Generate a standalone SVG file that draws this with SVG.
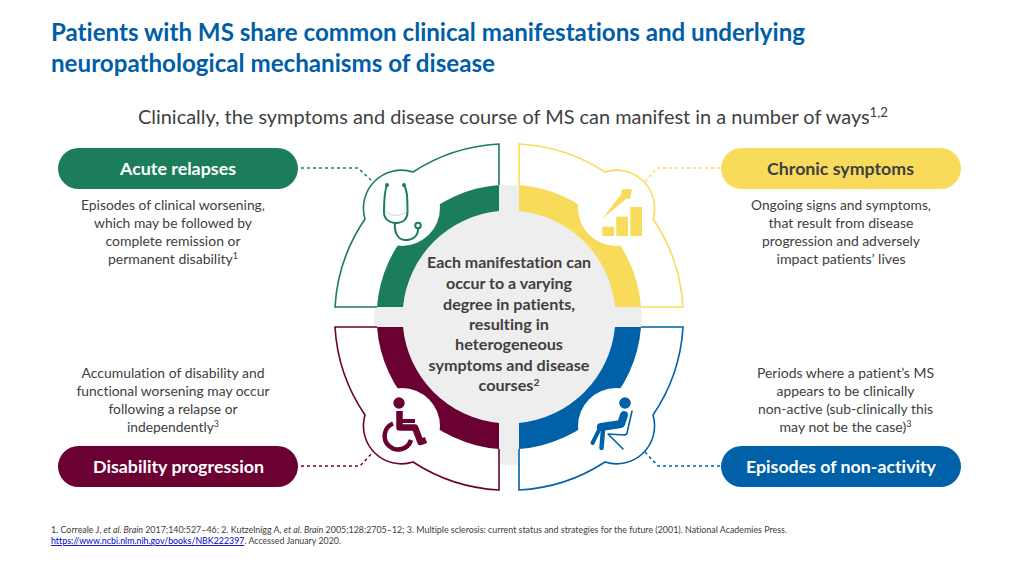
<svg xmlns="http://www.w3.org/2000/svg" xmlns:xlink="http://www.w3.org/1999/xlink" width="1024" height="576" viewBox="0 0 1024 576">
<style>
text{font-family:Lato,"Liberation Sans",sans-serif;font-variant-ligatures:none}
.title{font-size:24.5px;font-weight:700;fill:#005EA8}
.sub{font-size:19.5px;fill:#404040}
.desc{font-size:14px;fill:#404040;text-anchor:middle}
.ctr{font-size:15.5px;font-weight:700;fill:#404040;text-anchor:middle}
.pill{font-size:17.5px;font-weight:700;fill:#fff;text-anchor:middle}
.foot{font-size:9px;fill:#404040}
.conn{fill:none;stroke-width:1.5;stroke-dasharray:3 3}
.fillw{fill:#fff;stroke:none}
.edge{fill:none;stroke-width:1.6}
</style>
<defs>
<path id="sector" d="M499 144A174 174 0 0 0 413 172A38 38 0 0 0 365 219A174 174 0 0 0 335 307L377 307A132.500 132.500 0 0 1 499 185Z"/>
<path id="band" d="M377 307L403 307A106.500 106.500 0 0 1 499 211L499 185A132.500 132.500 0 0 0 377 307Z"/>
<circle id="disc" cx="402" cy="208" r="38"/>
<path id="edge" d="M499 185L499 144A174 174 0 0 0 413 172A38 38 0 0 0 365 219A174 174 0 0 0 335 307L377 307"/>
</defs>
<rect width="1024" height="576" fill="#fff"/>
<text class="title" x="51" y="41" textLength="754" lengthAdjust="spacingAndGlyphs">Patients with MS share common clinical manifestations and underlying</text>
<text class="title" x="51" y="72" textLength="444" lengthAdjust="spacingAndGlyphs">neuropathological mechanisms of disease</text>
<text class="sub" x="138" y="124" textLength="750" lengthAdjust="spacingAndGlyphs">Clinically, the symptoms and disease course of MS can manifest in a number of ways<tspan font-size="13" dy="-7">1,2</tspan></text>
<ellipse id="hub-bg" cx="508" cy="325" rx="134" ry="140" fill="#EEEEEE"/>
<g id="connectors">
<polyline class="conn" stroke="#1B7D5A" points="301,168 358,168 373,182"/>
<polyline class="conn" stroke="#F9DB5C" points="720,168 657,168 645,182"/>
<polyline class="conn" stroke="#6B0033" points="301,466 360,466 373,452"/>
<polyline class="conn" stroke="#0060A8" points="720,466 658,466 645,452"/>
</g>
<g id="quadrant-acute">
<use href="#sector" class="fillw"/>
<use href="#band" fill="#1B7D5A"/>
<use href="#disc" class="fillw"/>
<use href="#edge" class="edge" stroke="#1B7D5A"/>
<g id="icon-stethoscope" fill="none" stroke="#1B7D5A" stroke-width="2" stroke-linecap="round">
<path d="M387 185C385 190 384 196 384 212C384 219 389 223 396 223C403 223 407.500 219 407.500 212C407.500 196 407 190 404 185"/>
<path d="M395 223C394 232 398 240 405 240C413 240 418 236 418 229"/>
<circle cx="418" cy="225.500" r="2.800"/>
<path d="M385 211C392 217 400 217 407 211" stroke="#A9D2C2" stroke-width="0.800"/>
<circle cx="387" cy="185" r="1" fill="#1B7D5A"/><circle cx="404" cy="185" r="1" fill="#1B7D5A"/>
</g>
</g>
<g id="quadrant-chronic">
<use href="#sector" class="fillw" transform="matrix(-1 0 0 1 1018 0)"/>
<use href="#band" fill="#F9DB5C" transform="matrix(-1 0 0 1 1018 0)"/>
<use href="#disc" class="fillw" transform="matrix(-1 0 0 1 1018 0)"/>
<use href="#edge" class="edge" stroke="#F9DB5C" transform="matrix(-1 0 0 1 1018 0)"/>
<g id="icon-chart" fill="#F9DB5C">
<rect x="602.300" y="226.700" width="11.700" height="9.300"/>
<rect x="616.300" y="216.700" width="11.700" height="19.300"/>
<rect x="630.300" y="207" width="11.700" height="29"/>
<polygon points="602,219 621,194.500 621.700,189.300 632,189 630,199 626.500,198.500"/>
</g>
</g>
<g id="quadrant-disability">
<use href="#sector" class="fillw" transform="matrix(1 0 0 -1 0 634)"/>
<use href="#band" fill="#6B0033" transform="matrix(1 0 0 -1 0 634)"/>
<use href="#disc" class="fillw" transform="matrix(1 0 0 -1 0 634)"/>
<use href="#edge" class="edge" stroke="#6B0033" transform="matrix(1 0 0 -1 0 634)"/>
<g id="icon-wheelchair">
<circle cx="399" cy="403" r="5.700" fill="#6B0033"/>
<path d="M399.500 411L399.500 427.500L415 427.500L420.500 442L426 440" fill="none" stroke="#6B0033" stroke-width="6.500" stroke-linejoin="round"/>
<path d="M401 421L415 421" fill="none" stroke="#6B0033" stroke-width="4"/>
<path d="M393 423.500A13.500 13.500 0 1 0 411 440" fill="none" stroke="#6B0033" stroke-width="4.500"/>
</g>
</g>
<g id="quadrant-nonactivity">
<use href="#sector" class="fillw" transform="matrix(-1 0 0 -1 1018 634)"/>
<use href="#band" fill="#0060A8" transform="matrix(-1 0 0 -1 1018 634)"/>
<use href="#disc" class="fillw" transform="matrix(-1 0 0 -1 1018 634)"/>
<use href="#edge" class="edge" stroke="#0060A8" transform="matrix(-1 0 0 -1 1018 634)"/>
<g id="icon-seated" fill="none" stroke="#0060A8" stroke-linecap="round" stroke-linejoin="round">
<circle cx="625" cy="403" r="5.800" fill="#0060A8" stroke="none"/>
<path d="M624 415L621 424L601 427" stroke-width="8"/>
<path d="M600 428L592.500 443" stroke-width="4"/>
<path d="M603 430L601.500 448" stroke-width="4.500"/>
<path d="M632 411L627 433Q626.500 435 624 435L608 434L623 449" stroke-width="1.600"/>
</g>
</g>
<g id="center-text">
<text class="ctr" x="509" y="268" textLength="164" lengthAdjust="spacingAndGlyphs">Each manifestation can</text>
<text class="ctr" x="509" y="289" textLength="126" lengthAdjust="spacingAndGlyphs">occur to a varying</text>
<text class="ctr" x="509" y="310" textLength="132" lengthAdjust="spacingAndGlyphs">degree in patients,</text>
<text class="ctr" x="509" y="330" textLength="80" lengthAdjust="spacingAndGlyphs">resulting in</text>
<text class="ctr" x="509" y="350" textLength="108" lengthAdjust="spacingAndGlyphs">heterogeneous</text>
<text class="ctr" x="509" y="371" textLength="161" lengthAdjust="spacingAndGlyphs">symptoms and disease</text>
<text class="ctr" x="509" y="391" textLength="61" lengthAdjust="spacingAndGlyphs">courses<tspan font-size="10" dy="-5">2</tspan></text>
</g>
<g id="node-acute">
<rect x="58" y="148" width="240" height="41" rx="20.500" fill="#1B7D5A"/>
<text class="pill" x="178" y="175" textLength="116" lengthAdjust="spacingAndGlyphs">Acute relapses</text>
<text class="desc" x="173" y="210" textLength="184" lengthAdjust="spacingAndGlyphs">Episodes of clinical worsening,</text>
<text class="desc" x="173" y="228" textLength="158" lengthAdjust="spacingAndGlyphs">which may be followed by</text>
<text class="desc" x="173" y="246" textLength="135" lengthAdjust="spacingAndGlyphs">complete remission or</text>
<text class="desc" x="173" y="264" textLength="130" lengthAdjust="spacingAndGlyphs">permanent disability<tspan font-size="9" dy="-5">1</tspan></text>
</g>
<g id="node-chronic">
<rect x="721" y="148" width="240" height="41" rx="20.500" fill="#F9DB5C"/>
<text class="pill" x="840.500" y="175" style="fill:#404040" textLength="147" lengthAdjust="spacingAndGlyphs">Chronic symptoms</text>
<text class="desc" x="841" y="210" textLength="180" lengthAdjust="spacingAndGlyphs">Ongoing signs and symptoms,</text>
<text class="desc" x="841" y="228" textLength="145" lengthAdjust="spacingAndGlyphs">that result from disease</text>
<text class="desc" x="841" y="246" textLength="158" lengthAdjust="spacingAndGlyphs">progression and adversely</text>
<text class="desc" x="841" y="264" textLength="129" lengthAdjust="spacingAndGlyphs">impact patients’ lives</text>
</g>
<g id="node-disability">
<rect x="58" y="446" width="240" height="41" rx="20.500" fill="#6B0033"/>
<text class="pill" x="178.500" y="473" textLength="171" lengthAdjust="spacingAndGlyphs">Disability progression</text>
<text class="desc" x="173" y="378" textLength="183" lengthAdjust="spacingAndGlyphs">Accumulation of disability and</text>
<text class="desc" x="173" y="396" textLength="193" lengthAdjust="spacingAndGlyphs">functional worsening may occur</text>
<text class="desc" x="173" y="414" textLength="129" lengthAdjust="spacingAndGlyphs">following a relapse or</text>
<text class="desc" x="173" y="432" textLength="92" lengthAdjust="spacingAndGlyphs">independently<tspan font-size="9" dy="-5">3</tspan></text>
</g>
<g id="node-nonactivity">
<rect x="721" y="446" width="240" height="41" rx="20.500" fill="#0060A8"/>
<text class="pill" x="841" y="473" textLength="190" lengthAdjust="spacingAndGlyphs">Episodes of non-activity</text>
<text class="desc" x="845.500" y="378" textLength="177" lengthAdjust="spacingAndGlyphs">Periods where a patient’s MS</text>
<text class="desc" x="845.500" y="396" textLength="138" lengthAdjust="spacingAndGlyphs">appears to be clinically</text>
<text class="desc" x="845.500" y="414" textLength="175" lengthAdjust="spacingAndGlyphs">non-active (sub-clinically this</text>
<text class="desc" x="845.500" y="432" textLength="132" lengthAdjust="spacingAndGlyphs">may not be the case)<tspan font-size="9" dy="-5">3</tspan></text>
</g>
<g id="footnote">
<text class="foot" x="51" y="533" textLength="736" lengthAdjust="spacingAndGlyphs">1. Correale J, <tspan font-style="italic">et al. Brain</tspan> 2017;140:527–46; 2. Kutzelnigg A, <tspan font-style="italic">et al. Brain</tspan> 2005;128:2705–12; 3. Multiple sclerosis: current status and strategies for the future (2001). National Academies Press.</text>
<text class="foot" x="51" y="544" textLength="290" lengthAdjust="spacingAndGlyphs"><tspan fill="#0000D0" text-decoration="underline">https://www.ncbi.nlm.nih.gov/books/NBK222397</tspan>. Accessed January 2020.</text>
</g>
</svg>
